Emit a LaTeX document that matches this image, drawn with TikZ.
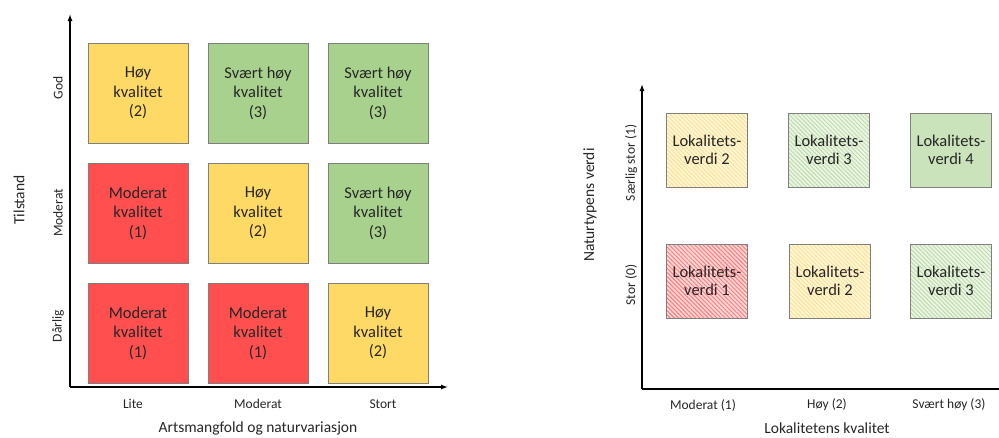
\documentclass[tikz,border=0pt]{standalone}
\usepackage{fontspec}
\setmainfont{Carlito}
\usetikzlibrary{arrows.meta,patterns.meta}
\definecolor{gul}{HTML}{FFD966}
\definecolor{gronn}{HTML}{A9D18E}
\definecolor{rod}{HTML}{FF4F4F}
\definecolor{kant}{HTML}{7F7F7F}
\definecolor{tekst}{HTML}{262626}
\begin{document}
\begin{tikzpicture}[x=1pt,y=-1pt,
        every node/.style={text=tekst},
        kval/.style={draw=kant,line width=0.8pt,rectangle,minimum width=100pt,minimum height=100pt,align=center,font=\fontsize{16.5}{19.5}\selectfont},
        lok/.style={draw=kant,line width=0.8pt,rectangle,minimum width=81pt,minimum height=74pt,align=center,font=\fontsize{16.5}{18}\selectfont},
        stripe/.style={preaction={fill=#1!22},pattern={Lines[angle=-45,distance=3pt,line width=1pt]},pattern color=#1!75},
        akse/.style={line width=1.3pt,draw=black},
        smaa/.style={font=\fontsize{13.5}{15}\selectfont},
        tittel/.style={font=\fontsize{15.5}{17}\selectfont}
      ]
      \useasboundingbox (0,0) rectangle (999,437);
      \coordinate (lo) at (70,387);
      \coordinate (ltopp) at (70,14);
      \coordinate (lslutt) at (448,387);
      \draw[akse,-{Latex[length=7pt,width=5pt]}] (lo) -- (ltopp);
      \draw[akse,-{Latex[length=7pt,width=5pt]}] (lo) -- (lslutt);
      \node[kval,fill=gul] (g1) at (138,93) {Høy\\kvalitet\\(2)};
      \node[kval,fill=gronn] (g2) at (258,93) {Svært høy\\kvalitet\\(3)};
      \node[kval,fill=gronn] (g3) at (378,93) {Svært høy\\kvalitet\\(3)};
      \node[kval,fill=rod] (m1) at (138,213) {Moderat\\kvalitet\\(1)};
      \node[kval,fill=gul] (m2) at (258,213) {Høy\\kvalitet\\(2)};
      \node[kval,fill=gronn] (m3) at (378,213) {Svært høy\\kvalitet\\(3)};
      \node[kval,fill=rod] (d1) at (138,333) {Moderat\\kvalitet\\(1)};
      \node[kval,fill=rod] (d2) at (258,333) {Moderat\\kvalitet\\(1)};
      \node[kval,fill=gul] (d3) at (378,333) {Høy\\kvalitet\\(2)};
      \node[smaa,rotate=90] (god) at (58,88) {God};
      \node[smaa,rotate=90] (moderat) at (58,213) {Moderat};
      \node[smaa,rotate=90] (darlig) at (58,326) {Dårlig};
      \node[tittel,rotate=90] (tilstand) at (19,200) {Tilstand};
      \node[smaa] (lite) at (133,404) {Lite};
      \node[smaa] (modx) at (258,404) {Moderat};
      \node[smaa] (stort) at (383,404) {Stort};
      \node[tittel] (arts) at (258,428) {Artsmangfold og naturvariasjon};
      \coordinate (ro) at (642,389);
      \coordinate (rtopp) at (642,84);
      \coordinate (rslutt) at (999,389);
      \draw[akse,-{Latex[length=7pt,width=5pt]}] (ro) -- (rtopp);
      \draw[akse] (ro) -- (rslutt);
      \node[lok,stripe=gul] (s1) at (707,150) {Lokalitets-\\verdi 2};
      \node[lok,stripe=gronn] (s2) at (829,150) {Lokalitets-\\verdi 3};
      \node[lok,fill=gronn!60] (s3) at (951,150) {Lokalitets-\\verdi 4};
      \node[lok,stripe=rod] (t1) at (707,281) {Lokalitets-\\verdi 1};
      \node[lok,stripe=gul] (t2) at (830,281) {Lokalitets-\\verdi 2};
      \node[lok,stripe=gronn] (t3) at (951,281) {Lokalitets-\\verdi 3};
      \node[smaa,rotate=90] (saerlig) at (631,163) {Særlig stor (1)};
      \node[smaa,rotate=90] (stor) at (631,285) {Stor (0)};
      \node[tittel,rotate=90] (naturtype) at (590,205) {Naturtypens verdi};
      \node[smaa] (modk) at (703,405) {Moderat (1)};
      \node[smaa] (hoy) at (827,405) {Høy (2)};
      \node[smaa] (svaert) at (949,405) {Svært høy (3)};
      \node[tittel] (lokk) at (827,428) {Lokalitetens kvalitet};
    \end{tikzpicture}
\end{document}
